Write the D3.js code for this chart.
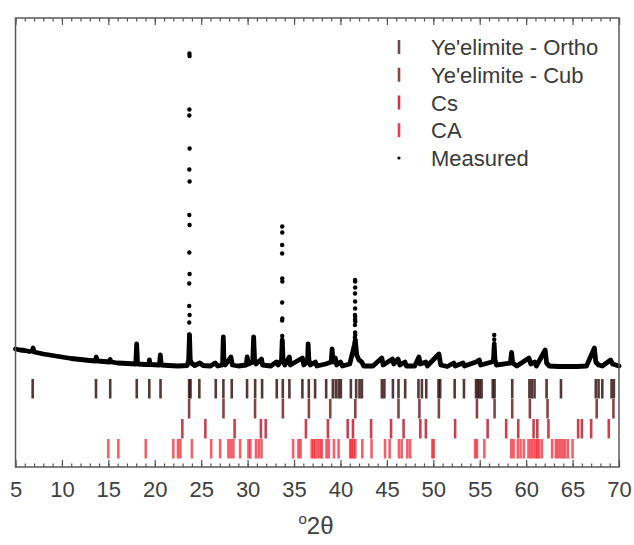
<!DOCTYPE html>
<html>
<head>
<meta charset="utf-8">
<script src="https://cdn.jsdelivr.net/npm/d3@7"></script>
<style>
    body { margin: 0; background: #fff; }
    svg { display: block; font-family: "Liberation Sans", Arial, sans-serif; }
</style>
</head>
<body>
<svg id="chart" width="634" height="545"></svg>
<script>
// x axis ticks
const majorTicks = [5, 10, 15, 20, 25, 30, 35, 40, 45, 50, 55, 60, 65, 70];
const minorTicks = d3.range(5, 71, 1);

// reflection positions (deg 2theta) per phase
const orthoPeaks = [6.85, 13.67, 15.2, 18.06, 19.41, 20.62, 23.7, 23.85, 24.8, 26.57, 27.39, 28.29,
    29.94, 30.81, 31.56, 33.14, 33.79, 34.5, 35.9, 36.59, 37.27, 38.46, 39.18, 39.5, 39.8, 40.04,
    41.12, 41.69, 42.05, 42.31, 44.46, 44.73, 45.65, 46.25, 46.97, 48.4, 48.77, 49.24, 50.56, 50.74,
    52.3, 53.3, 54.6, 54.8, 54.98, 55.2, 56.4, 56.6, 58.5, 60.35, 60.6, 60.9, 62.2, 63.75, 67.5,
    67.8, 68.2, 69.2, 69.45];
const cubPeaks = [23.7, 27.4, 30.8, 33.8, 36.6, 38.9, 41.6, 46.25, 48.5, 50.6, 54.7, 56.6, 58.5,
    60.4, 62.3, 67.6, 69.4];
const csPeaks = [22.97, 25.45, 28.6, 31.43, 31.95, 36.28, 38.65, 40.78, 41.35, 43.3, 45.45, 46.8,
    48.6, 49.2, 52.35, 55.85, 57.85, 59.15, 60.8, 61.2, 62.4, 65.6, 66.0, 67.0, 68.9];
const caPeaks = [15.0, 16.08, 19.03, 22.0, 22.5, 22.76, 24.0, 26.08, 27.04, 27.93, 28.2, 28.47,
    29.19, 30.09, 30.3, 30.9, 31.2, 31.5, 34.9, 35.47, 35.7, 36.9, 37.1, 37.3, 37.55, 37.8, 38.0,
    38.5, 38.75, 39.3, 39.8, 41.05, 41.2, 41.4, 41.6, 42.35, 43.35, 44.8, 45.3, 46.3, 46.6, 47.2,
    47.5, 49.9, 50.05, 54.5, 54.7, 55.5, 58.4, 58.65, 59.1, 59.4, 59.75, 60.25, 60.5, 60.75, 61.0,
    61.2, 61.4, 61.7, 62.8, 63.2, 63.45, 63.7, 63.95, 64.2, 64.5, 65.0];

const phaseNames = ["Ye'elimite - Ortho", "Ye'elimite - Cub", "Cs", "CA"];
const phasePeaks = [orthoPeaks, cubPeaks, csPeaks, caPeaks];
const phaseColors = ["#2b0808", "#600606", "#bb0a20", "#ee0a18"];
const phaseOpacity = [0.8, 0.75, 0.78, 0.65];
const legendColors = ["#6a4c4c", "#8c4444", "#cc3545", "#e8404f"];

// measured pattern: dense profile [2theta, counts]
const measuredProfile = [
    [5.0, 2360], [5.5, 2340], [6.0, 2330], [6.5, 2310], [6.8, 2320], [6.9, 2380], [7.0, 2300],
    [7.5, 2280], [8.0, 2260], [9.0, 2230], [10.0, 2200], [11.0, 2170], [12.0, 2150], [13.0, 2130],
    [13.6, 2120], [13.7, 2200], [13.8, 2120], [14.5, 2110], [15.1, 2100], [15.2, 2150], [15.3, 2100],
    [16.0, 2080], [17.0, 2070], [17.95, 2060], [18.05, 2460], [18.15, 2060], [19.0, 2050],
    [19.35, 2050], [19.42, 2140], [19.5, 2050], [20.5, 2040], [20.6, 2240], [20.7, 2040],
    [21.5, 2030], [22.5, 2020], [23.5, 2030], [23.65, 2140], [23.74, 2640], [23.82, 2140],
    [23.95, 2080], [24.3, 2030], [24.85, 2080], [25.2, 2030], [26.0, 2020], [26.5, 2080],
    [26.8, 2020], [27.3, 2040], [27.38, 2600], [27.45, 2140], [27.6, 2040], [28.2, 2200],
    [28.35, 2040], [29.0, 2020], [29.85, 2040], [29.95, 2200], [30.1, 2060], [30.55, 2100],
    [30.65, 2600], [30.75, 2140], [30.9, 2060], [31.5, 2160], [31.6, 2040], [32.5, 2020],
    [33.1, 2100], [33.3, 2040], [33.65, 2140], [33.73, 2540], [33.82, 2140], [34.0, 2040],
    [34.5, 2200], [34.6, 2040], [35.9, 2180], [36.05, 2040], [36.45, 2100], [36.52, 2460],
    [36.6, 2140], [36.75, 2040], [37.3, 2100], [37.45, 2020], [38.4, 2060], [39.0, 2100],
    [39.1, 2360], [39.2, 2100], [39.45, 2180], [39.6, 2040], [40.0, 2100], [40.2, 2020],
    [41.0, 2060], [41.5, 2440], [41.6, 2540], [41.75, 2240], [42.0, 2140], [42.3, 2100],
    [42.5, 2020], [43.5, 2020], [44.45, 2180], [44.6, 2040], [45.6, 2160], [45.75, 2060],
    [46.2, 2160], [46.4, 2040], [46.95, 2100], [47.1, 2020], [48.0, 2020], [48.45, 2200],
    [48.6, 2060], [49.2, 2100], [49.35, 2020], [50.6, 2260], [50.8, 2040], [51.5, 2010],
    [52.2, 2080], [52.35, 2020], [53.2, 2080], [53.35, 2020], [54.6, 2100], [54.95, 2140],
    [55.1, 2040], [56.3, 2100], [56.48, 2140], [56.56, 2440], [56.64, 2140], [56.8, 2040],
    [58.3, 2080], [58.43, 2290], [58.55, 2080], [59.0, 2020], [60.3, 2180], [60.5, 2060],
    [60.9, 2100], [61.1, 2020], [62.05, 2340], [62.2, 2080], [62.5, 2020], [63.5, 2010],
    [64.5, 2010], [65.5, 2010], [66.5, 2020], [67.35, 2380], [67.5, 2100], [67.8, 2040],
    [68.2, 2020], [69.1, 2140], [69.3, 2060], [70.0, 2020]
];

// measured pattern: separated points on the strong reflections [2theta, counts]
const measuredDots = [
    [23.73, 8270], [23.75, 8220], [23.73, 7150], [23.72, 7030], [23.75, 6370], [23.72, 5950],
    [23.75, 5710], [23.72, 5040], [23.75, 4840], [23.72, 4290], [23.75, 3860], [23.71, 3670],
    [23.71, 3220], [23.75, 3040], [23.71, 2890], [23.71, 2650],
    [33.73, 4810], [33.73, 4690], [33.72, 4440], [33.72, 4270], [33.73, 3770], [33.74, 3710],
    [33.72, 3290], [33.74, 2970], [33.72, 2930], [33.73, 2620], [33.74, 2490],
    [41.58, 3740], [41.58, 3710], [41.58, 3590], [41.57, 3470], [41.58, 3310], [41.58, 3170],
    [41.56, 3040], [41.59, 3010], [41.57, 2950], [41.6, 2910], [41.56, 2840], [41.58, 2690],
    [41.6, 2640], [41.55, 2590], [41.6, 2540],
    [56.56, 2640], [56.56, 2550], [56.57, 2470]
];

const width = 634, height = 545;
const plotLeft = 15.5, plotRight = 619, plotTop = 18, plotBottom = 467;

const svg = d3.select('#chart');

const x = d3.scaleLinear().domain([5, 70]).range([plotLeft, plotRight]);
const y = d3.scaleLinear().domain([0, 8980]).range([plotBottom, plotTop]);

// reflection tick rows (stacked under the pattern)
const rowTop = 379, rowHeight = 19.5, rowGap = 0.5;
phasePeaks.forEach((peaks, i) => {
    let y0 = rowTop + i * (rowHeight + rowGap);
    svg.append('g')
        .selectAll('line')
        .data(peaks)
        .join('line')
        .attr('x1', d => x(d))
        .attr('x2', d => x(d))
        .attr('y1', y0)
        .attr('y2', y0 + rowHeight)
        .attr('stroke', phaseColors[i])
        .attr('stroke-opacity', phaseOpacity[i])
        .attr('stroke-width', 2.6);
});

// measured profile
let line = d3.line().x(d => x(d[0])).y(d => y(d[1]));
svg.append('path')
    .attr('d', line(measuredProfile))
    .attr('fill', 'none')
    .attr('stroke', '#000')
    .attr('stroke-width', 4.8)
    .attr('stroke-linejoin', 'round')
    .attr('stroke-linecap', 'round');

svg.append('g')
    .selectAll('circle')
    .data(measuredDots)
    .join('circle')
    .attr('cx', d => x(d[0]))
    .attr('cy', d => y(d[1]))
    .attr('r', 2.2)
    .attr('fill', '#000');

// axes (ticks pointing inwards)
function styleAxis(g) {
    g.select('.domain').remove();
    g.selectAll('.tick line').attr('stroke', '#555').attr('stroke-width', 1.2);
}

svg.append('g')
    .attr('transform', `translate(0,${plotBottom})`)
    .call(d3.axisBottom(x).tickValues(minorTicks).tickSize(-3.5).tickFormat(''))
    .call(styleAxis);

svg.append('g')
    .attr('transform', `translate(0,${plotBottom})`)
    .call(d3.axisBottom(x).tickValues(majorTicks).tickSize(-7).tickPadding(14))
    .call(styleAxis)
    .call(g => g.selectAll('text')
        .attr('font-size', 22)
        .attr('fill', '#404040')
        .attr('font-family', '"Liberation Sans", Arial, sans-serif'));

svg.append('g')
    .attr('transform', `translate(0,${plotTop})`)
    .call(d3.axisTop(x).tickValues(minorTicks).tickSize(-3.5).tickFormat(''))
    .call(styleAxis);

svg.append('g')
    .attr('transform', `translate(0,${plotTop})`)
    .call(d3.axisTop(x).tickValues(majorTicks).tickSize(-7).tickFormat(''))
    .call(styleAxis);

// frame
svg.append('rect')
    .attr('x', plotLeft)
    .attr('y', plotTop)
    .attr('width', plotRight - plotLeft)
    .attr('height', plotBottom - plotTop)
    .attr('fill', 'none')
    .attr('stroke', '#5a5a5a')
    .attr('stroke-width', 1.5);

// x title
let title = svg.append('text')
    .attr('x', 316)
    .attr('y', 534)
    .attr('text-anchor', 'middle')
    .attr('fill', '#404040')
    .attr('font-size', 24);
title.append('tspan').attr('font-size', 15).attr('dy', -10).text('o');
title.append('tspan').attr('dy', 10).text('2');
title.append('tspan').text('θ');

// legend
let legend = svg.append('g').attr('transform', 'translate(399,0)');
phaseNames.forEach((name, i) => {
    let ty = 55 + i * 27.75;
    legend.append('line')
        .attr('x1', 0).attr('x2', 0)
        .attr('y1', ty - 15).attr('y2', ty - 1)
        .attr('stroke', legendColors[i])
        .attr('stroke-width', 2.6);
    legend.append('text')
        .attr('x', 32)
        .attr('y', ty)
        .attr('font-size', 22)
        .attr('fill', '#3a3a3a')
        .text(name);
});
legend.append('circle')
    .attr('cx', 0)
    .attr('cy', 55 + 4 * 27.75 - 8)
    .attr('r', 1.6)
    .attr('fill', '#000');
legend.append('text')
    .attr('x', 32)
    .attr('y', 55 + 4 * 27.75)
    .attr('font-size', 22)
    .attr('fill', '#3a3a3a')
    .text('Measured');
</script>
</body>
</html>
